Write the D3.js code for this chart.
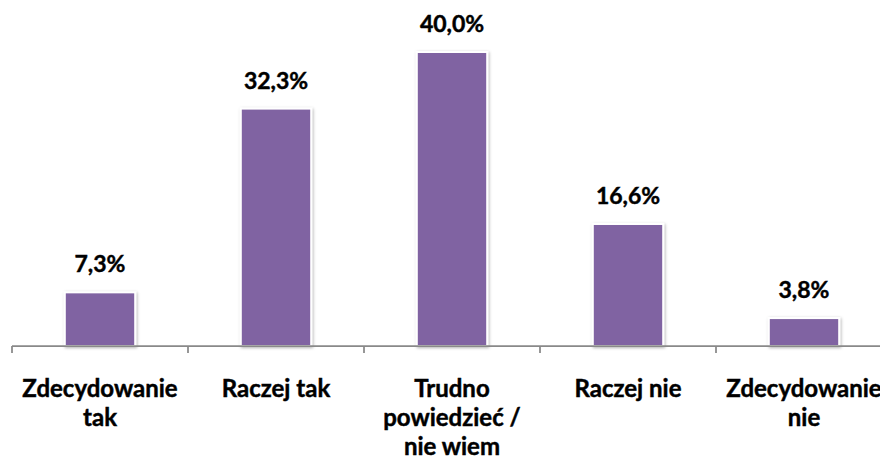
<!DOCTYPE html>
<html>
<head>
<meta charset="utf-8">
<script src="https://cdn.jsdelivr.net/npm/d3@7/dist/d3.min.js"></script>
<style>
  html, body { margin: 0; padding: 0; background: #ffffff; }
  svg { display: block; }
  text { font-family: Lato, "Open Sans", sans-serif; font-weight: 700; fill: #000; stroke: #000; stroke-width: 0.45px; }
</style>
</head>
<body>
<svg id="chart" width="880" height="462"></svg>
<script>
// Survey answers and their shares (%)
const categories = ["Zdecydowanie tak", "Raczej tak", "Trudno powiedzieć / nie wiem", "Raczej nie", "Zdecydowanie nie"];
const categoryLines = [["Zdecydowanie", "tak"], ["Raczej tak"], ["Trudno", "powiedzieć /", "nie wiem"], ["Raczej nie"], ["Zdecydowanie", "nie"]];
const values = [7.3, 32.3, 40.0, 16.6, 3.8];
const valueLabels = ["7,3%", "32,3%", "40,0%", "16,6%", "3,8%"];

const svg = d3.select("#chart");
const left = 12, right = 892, baseY = 346, topY = 52;

const defs = svg.append("defs");
const f = defs.append("filter").attr("id", "soft").attr("x", "-20%").attr("y", "-20%").attr("width", "140%").attr("height", "140%");
f.append("feDropShadow").attr("dx", 1).attr("dy", 1).attr("stdDeviation", 1.6)
  .attr("flood-color", "#000").attr("flood-opacity", 0.3);

// category slots (axis ticks sit on slot boundaries)
const slot = d3.scaleBand().domain(categories).range([left, right]).padding(0);
// bars occupy the middle of each slot
const x = d3.scaleBand().domain(categories).range([left, right]).paddingInner(0.6).paddingOuter(0.3);
const y = d3.scaleLinear().domain([0, 40]).range([baseY, topY]);

// bars
svg.append("g").selectAll("rect").data(values).join("rect")
  .attr("x", (d, i) => x(categories[i]))
  .attr("y", d => y(d))
  .attr("width", x.bandwidth())
  .attr("height", d => y(0) - y(d))
  .attr("fill", "#8064a2")
  .attr("stroke", "#ffffff")
  .attr("stroke-width", 2)
  .attr("filter", "url(#soft)");

// axis line with boundary ticks
const axis = svg.append("g").attr("stroke", "#898989").attr("stroke-width", 1.75);
axis.append("line").attr("x1", left).attr("x2", right).attr("y1", baseY).attr("y2", baseY);
const bounds = categories.map(c => slot(c)).concat([right]);
axis.selectAll("line.tick").data(bounds).join("line").attr("class", "tick")
  .attr("x1", d => Math.round(d)).attr("x2", d => Math.round(d))
  .attr("y1", baseY).attr("y2", baseY + 7);

// value labels
svg.append("g").selectAll("text").data(values).join("text")
  .attr("x", (d, i) => x(categories[i]) + x.bandwidth() / 2)
  .attr("y", d => y(d) - 20)
  .attr("text-anchor", "middle")
  .attr("font-size", 23)
  .text((d, i) => valueLabels[i]);

// category labels
const cat = svg.append("g").selectAll("text").data(categories).join("text")
  .attr("x", c => slot(c) + slot.bandwidth() / 2)
  .attr("y", 397)
  .attr("text-anchor", "middle")
  .attr("font-size", 24);
cat.each(function(c, i) {
  const t = d3.select(this);
  categoryLines[i].forEach((line, j) => {
    t.append("tspan").attr("x", slot(c) + slot.bandwidth() / 2).attr("y", 397 + j * 29).text(line);
  });
});
</script>
</body>
</html>
